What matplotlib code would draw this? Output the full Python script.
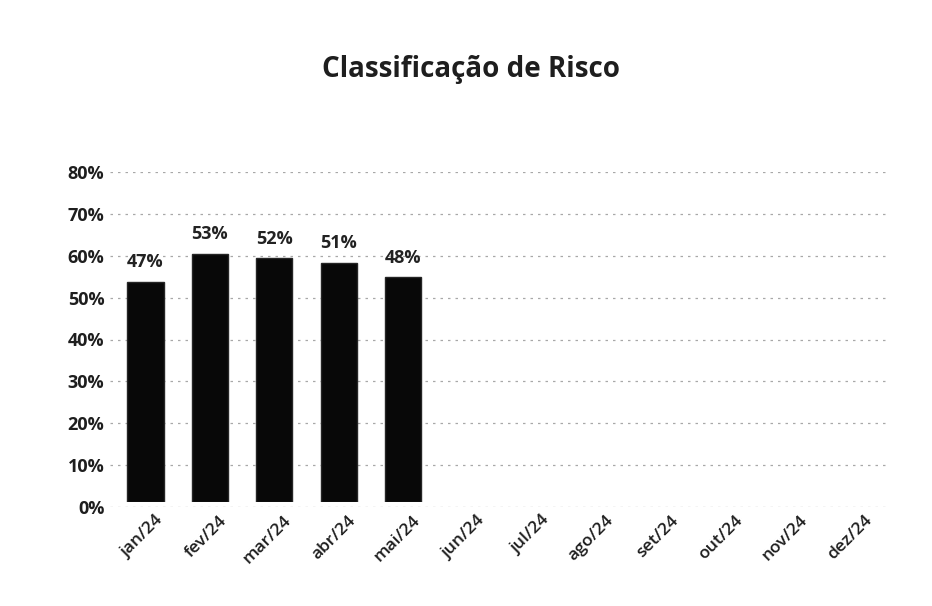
import matplotlib
matplotlib.use("Agg")
import matplotlib.pyplot as plt
from matplotlib.ticker import PercentFormatter
from matplotlib.transforms import ScaledTranslation

months = ["jan/24", "fev/24", "mar/24", "abr/24", "mai/24", "jun/24",
          "jul/24", "ago/24", "set/24", "out/24", "nov/24", "dez/24"]
values = [0.47, 0.53, 0.52, 0.51, 0.48]
labels = ["47%", "53%", "52%", "51%", "48%"]
yticks = [0, 0.1, 0.2, 0.3, 0.4, 0.5, 0.6, 0.7, 0.8]

plt.rcParams['font.family'] = ['Open Sans', 'DejaVu Sans']

fig = plt.figure(figsize=(9.32, 6.06), dpi=100)
W, H = 932, 606

# back wall (gridlines + value axis), as in a 3-D Excel column chart
ax = fig.add_axes([110 / W, (H - 507) / H, 780 / W, 335 / H])
ax.set_xlim(-0.55, len(months) - 0.45)
ax.set_ylim(0, 0.8)
ax.set_yticks(yticks)
ax.yaxis.set_major_formatter(PercentFormatter(1.0, decimals=0))
ax.set_xticks(range(len(months)))
ax.set_xticklabels(months, rotation=45, ha="right", rotation_mode="anchor")
ax.tick_params(axis="y", length=0, labelsize=13, colors="#1e1e1e", pad=4)
ax.tick_params(axis="x", length=0, labelsize=12.5, colors="#1e1e1e", pad=4)
shift = ScaledTranslation(9 / 100, 0, fig.dpi_scale_trans)
for lab in ax.get_yticklabels():
    lab.set_fontweight("bold")
for lab in ax.get_xticklabels():
    lab.set_fontweight("semibold")
    lab.set_transform(lab.get_transform() + shift)
ax.grid(axis="y", linestyle=(0, (2, 4)), color="#a8a8a8", linewidth=0.9, zorder=0)
for s in ax.spines.values():
    s.set_visible(False)

# front plane (columns), perspective makes it appear larger than the back wall
axf = fig.add_axes([110 / W, (H - 502) / H, 780 / W, 375 / H])
axf.set_xlim(-0.55, len(months) - 0.45)
axf.set_ylim(0, 0.8)
axf.axis("off")
x = list(range(len(values)))
axf.bar(x, values, width=0.56, color="#080808", edgecolor="#262626",
        linewidth=1.0, zorder=3)
for i, (v, t) in enumerate(zip(values, labels)):
    axf.annotate(t, (i, v), xytext=(0, 14), textcoords="offset points",
                 ha="center", va="center", fontsize=13, fontweight="bold",
                 color="#222222")

fig.text(471 / W, 1 - 70 / H, "Classificação de Risco", ha="center",
         va="center", fontsize=20, fontweight="bold", color="#1e1e1e")

fig.savefig("out.png", dpi=100)
